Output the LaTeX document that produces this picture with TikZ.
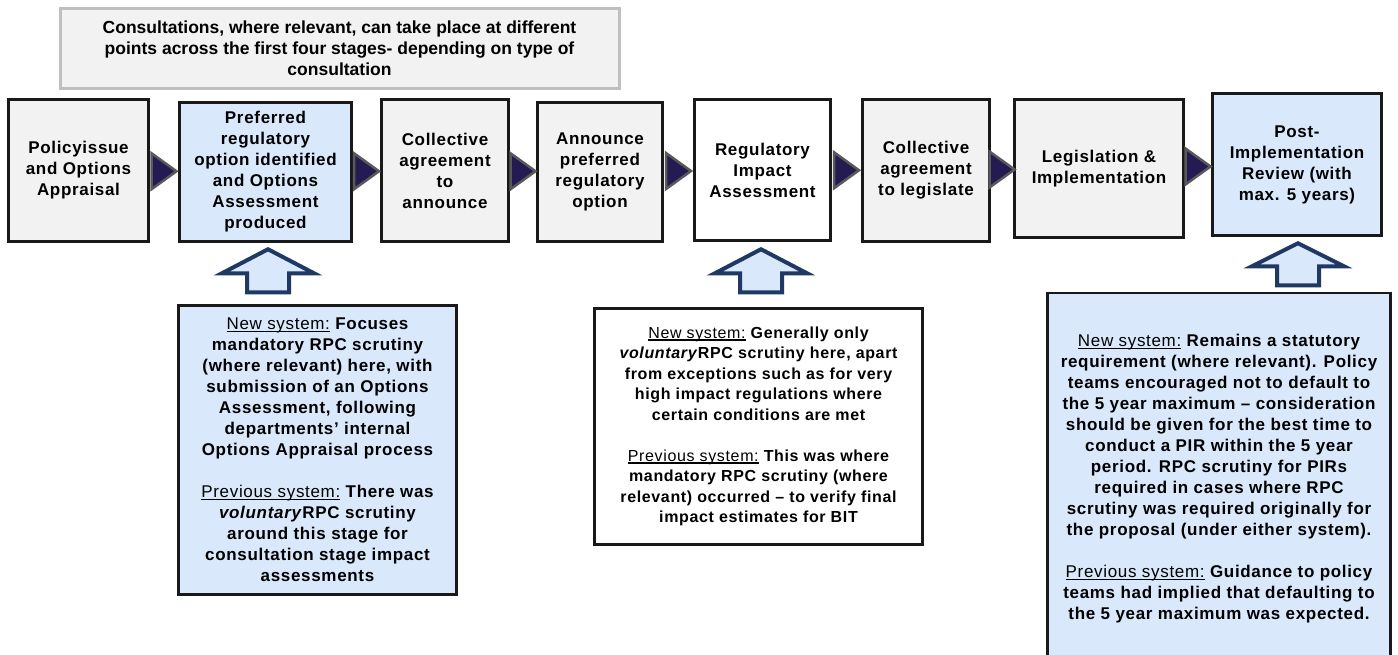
\documentclass[tikz,border=0pt]{standalone}
\usepackage{fontspec}
\setmainfont{Liberation Sans}
\newfontfamily\trackedfont[LetterSpace=4]{Liberation Sans}
\usetikzlibrary{calc}

\definecolor{stagegrey}{RGB}{242,242,242}
\definecolor{topedge}{RGB}{191,191,191}
\definecolor{paleblue}{RGB}{218,232,252}
\definecolor{navy}{RGB}{31,56,100}
\definecolor{chevronfill}{RGB}{35,27,82}
\definecolor{chevronedge}{RGB}{89,89,89}

\newcommand{\sysline}[1]{{\mdseries\setbox0\hbox{#1}\rlap{\rule[-2.2pt]{\wd0}{1.1pt}}\box0}}

\tikzset{
  stagebox/.style={draw=black!90, line width=3.5pt, fill=stagegrey, align=center, inner sep=3pt,
    font=\trackedfont\bfseries\fontsize{17}{21}\selectfont},
  notebox/.style={draw=black!90, line width=2.8pt, align=center, inner sep=3pt,
    font=\trackedfont\bfseries\fontsize{17}{21}\selectfont},
  chevron/.style={draw=chevronedge, line width=2.5pt, fill=chevronfill, line join=miter},
  blockup/.style={draw=navy, line width=4pt, fill=paleblue, line join=miter},
}

\begin{document}
\begin{tikzpicture}[x=1pt,y=-1pt]

\useasboundingbox (0,0) rectangle (1398,654);

\node[draw=topedge, line width=3pt, fill=stagegrey, align=center, minimum width=559pt, minimum height=80pt,
  font=\bfseries\fontsize{17.5}{21}\selectfont] (consult) at (339.5,48.5)
  {Consultations, where relevant, can take place at different\\
   points across the first four stages- depending on type of\\
   consultation};

\node[stagebox, minimum width=140pt, minimum height=142pt] (b1) at (78.5,170.5)
  {Policyissue\\and Options\\Appraisal};
\node[stagebox, fill=paleblue, minimum width=172pt, minimum height=139pt] (b2) at (265.5,172)
  {Preferred\\regulatory\\option identified\\and Options\\Assessment\\produced};
\node[stagebox, minimum width=127pt, minimum height=142pt] (b3) at (445,170.5)
  {Collective\\agreement\\to\\announce};
\node[stagebox, minimum width=125pt, minimum height=139pt] (b4) at (600,172)
  {Announce\\preferred\\regulatory\\option};
\node[stagebox, fill=white, minimum width=136pt, minimum height=141pt] (b5) at (762.5,170)
  {Regulatory\\Impact\\Assessment};
\node[stagebox, minimum width=127pt, minimum height=142pt] (b6) at (926,170.5)
  {Collective\\agreement\\to legislate};
\node[stagebox, minimum width=169pt, minimum height=138pt] (b7) at (1099,168.5)
  {Legislation \&\\Implementation};
\node[stagebox, fill=paleblue, minimum width=169pt, minimum height=142pt] (b8) at (1297,164.5)
  {Post-\\Implementation\\Review (with\\max. 5 years)};

\draw[chevron] ($(b1.east)!.5!(b2.west)$) ++(-12.5,-18) -- ++(25,18) -- ++(-25,18) -- cycle;
\draw[chevron] ($(b2.east)!.5!(b3.west)$) ++(-12.5,-18) -- ++(25,18) -- ++(-25,18) -- cycle;
\draw[chevron] ($(b3.east)!.5!(b4.west)$) ++(-12.5,-18) -- ++(25,18) -- ++(-25,18) -- cycle;
\draw[chevron] ($(b4.east)!.5!(b5.west)$) ++(-12.5,-18) -- ++(25,18) -- ++(-25,18) -- cycle;
\draw[chevron] ($(b5.east)!.5!(b6.west)$) ++(-12.5,-18) -- ++(25,18) -- ++(-25,18) -- cycle;
\draw[chevron] ($(b6.east)!.5!(b7.west)$) ++(-12.5,-18) -- ++(25,18) -- ++(-25,18) -- cycle;
\draw[chevron] ($(b7.east)!.5!(b8.west)$) ++(-12.5,-18) -- ++(25,18) -- ++(-25,18) -- cycle;

\node[notebox, fill=paleblue, minimum width=278.5pt, minimum height=289.5pt] (n1) at (317.5,450)
  {\sysline{New system:} Focuses\\
   mandatory RPC scrutiny\\
   (where relevant) here, with\\
   submission of an Options\\
   Assessment, following\\
   departments’ internal\\
   Options Appraisal process\\[21pt]
   \sysline{Previous system:} There was\\
   \textit{voluntary}RPC scrutiny\\
   around this stage for\\
   consultation stage impact\\
   assessments};

\node[notebox, fill=white, minimum width=328.5pt, minimum height=236.5pt,
  font=\trackedfont\bfseries\fontsize{16}{20.5}\selectfont] (n2) at (758.5,426.5)
  {\sysline{New system:} Generally only\\
   \textit{voluntary}RPC scrutiny here, apart\\
   from exceptions such as for very\\
   high impact regulations where\\
   certain conditions are met\\[20.5pt]
   \sysline{Previous system:} This was where\\
   mandatory RPC scrutiny (where\\
   relevant) occurred – to verify final\\
   impact estimates for BIT};

\node[notebox, fill=paleblue, minimum width=343.5pt, minimum height=372pt] (n3) at (1219,479)
  {\sysline{New system:} Remains a statutory\\
   requirement (where relevant). Policy\\
   teams encouraged not to default to\\
   the 5 year maximum – consideration\\
   should be given for the best time to\\
   conduct a PIR within the 5 year\\
   period. RPC scrutiny for PIRs\\
   required in cases where RPC\\
   scrutiny was required originally for\\
   the proposal (under either system).\\[21pt]
   \sysline{Previous system:} Guidance to policy\\
   teams had implied that defaulting to\\
   the 5 year maximum was expected.};

\draw[blockup] ($(b2.south)+(2.5,6)$) -- ++(46,24) -- ++(-25,0) -- ++(0,19) -- ++(-42,0) -- ++(0,-19) -- ++(-25,0) -- cycle;
\draw[blockup] ($(b5.south)+(-1.5,7)$) -- ++(46,24) -- ++(-25,0) -- ++(0,19) -- ++(-42,0) -- ++(0,-19) -- ++(-25,0) -- cycle;
\draw[blockup] ($(b8.south)+(1,6)$) -- ++(46,23) -- ++(-25,0) -- ++(0,19) -- ++(-42,0) -- ++(0,-19) -- ++(-25,0) -- cycle;

\end{tikzpicture}
\end{document}
